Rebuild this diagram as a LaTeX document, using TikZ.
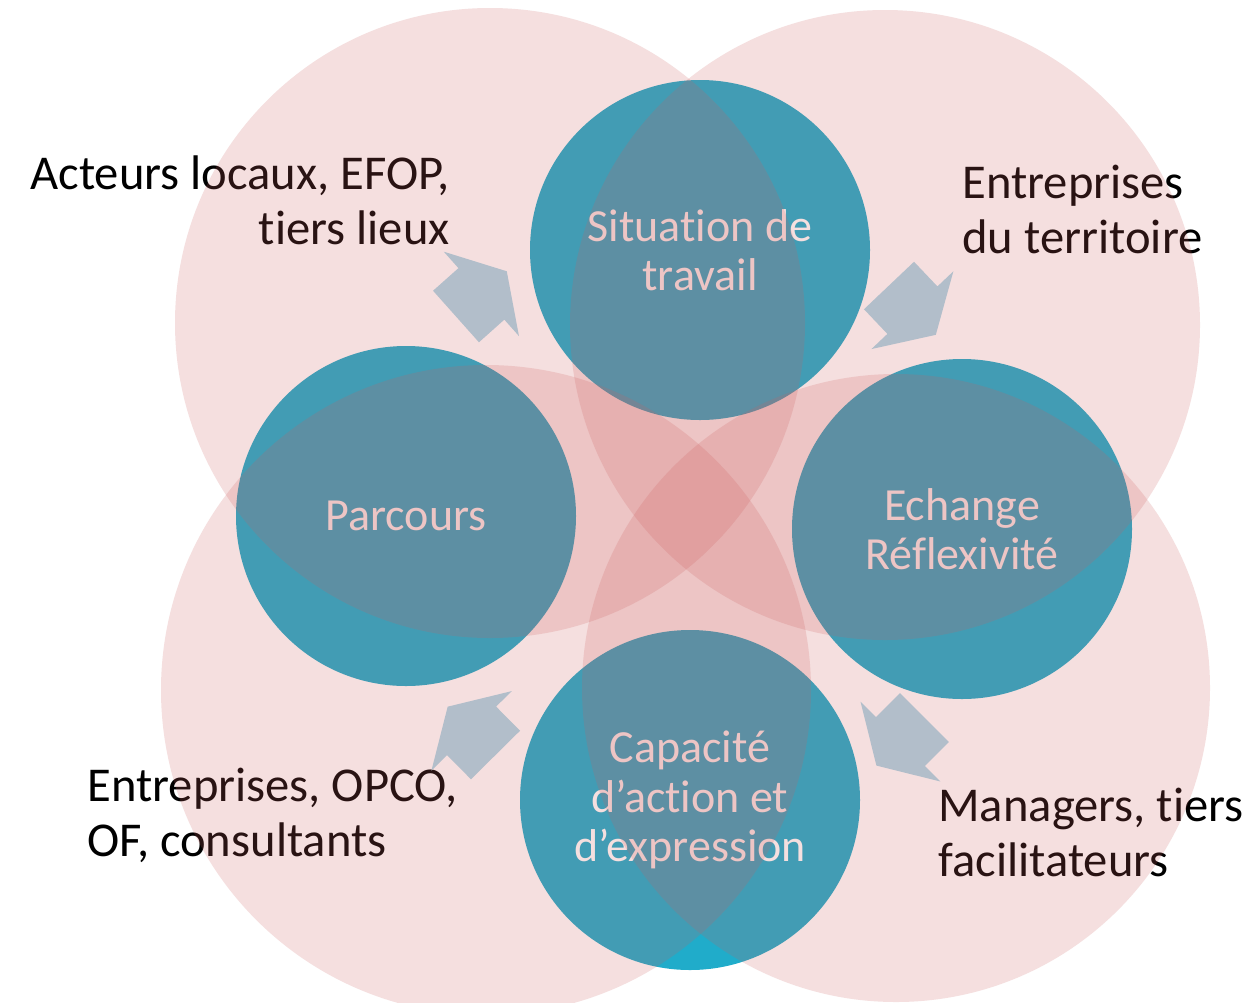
\documentclass[tikz,border=0pt]{standalone}
\usepackage{fontspec}
\setmainfont{Carlito}[Ligatures={NoCommon,NoContextual}]
\definecolor{pinkc}{RGB}{205,95,95}
\definecolor{bluec}{RGB}{32,172,202}
\definecolor{arrowc}{RGB}{178,190,202}
\definecolor{inktext}{RGB}{0,0,0}
\tikzset{
  pinkdisc/.style={fill=pinkc, fill opacity=0.2, draw=none},
  bluedisc/.style={circle, fill=bluec, draw=none, minimum size=170pt, inner sep=0pt,
    text=white, align=center, font=\fontsize{23}{24.75}\selectfont},
  outertext/.style={inner sep=0pt, text=inktext, font=\fontsize{24.3}{27.5}\selectfont},
  blockarrow/.pic={\fill[arrowc] (0,-34.5) -- (34,-34.5) -- (34,-56.5) -- (68,0)
     -- (34,56.5) -- (34,34.5) -- (0,34.5) -- cycle;}
}
\begin{document}
\begin{tikzpicture}[x=0.5pt,y=-0.5pt]
\useasboundingbox (0,0) rectangle (1252,1002);
\fill[white] (0,0) rectangle (1252,1002);
\clip (0,0) rectangle (1252,1002);
% blue circles with their texts
\node[bluedisc] (sit) at (700,250) {Situation de\\travail};
\node[bluedisc] (parc) at (406,516) {Parcours};
\node[bluedisc] (ech) at (962,529) {Echange\\Réflexivité};
\node[bluedisc] (cap) at (690,800) {Capacité\\d’action et\\d’expression};
% outer texts
\node[outertext, anchor=north east, align=right] (acteurs) at (450,155) {Acteurs locaux, EFOP,\\tiers lieux};
\node[outertext, anchor=north west, align=left] (entter) at (962,165) {Entreprises\\du territoire};
\node[outertext, anchor=north west, align=left] (entopco) at (87,768) {Entreprises, OPCO,\\OF, consultants};
\node[outertext, anchor=north west, align=left] (manag) at (938,788) {Managers, tiers\\facilitateurs};
% pink translucent circles
\fill[pinkdisc] (490,323) circle[radius=315];
\fill[pinkdisc] (885,325) circle[radius=315];
\fill[pinkdisc] (486,690) circle[radius=325];
\fill[pinkdisc] (896,688) circle[radius=314];
% block arrows
\pic[rotate=41.7] at (456,316.5) {blockarrow};
\pic[rotate=-46.5] at (889,285.5) {blockarrow};
\pic[rotate=-135] at (924.5,717.5) {blockarrow};
\pic[rotate=134.7] at (495.5,755) {blockarrow};
\end{tikzpicture}
\end{document}
